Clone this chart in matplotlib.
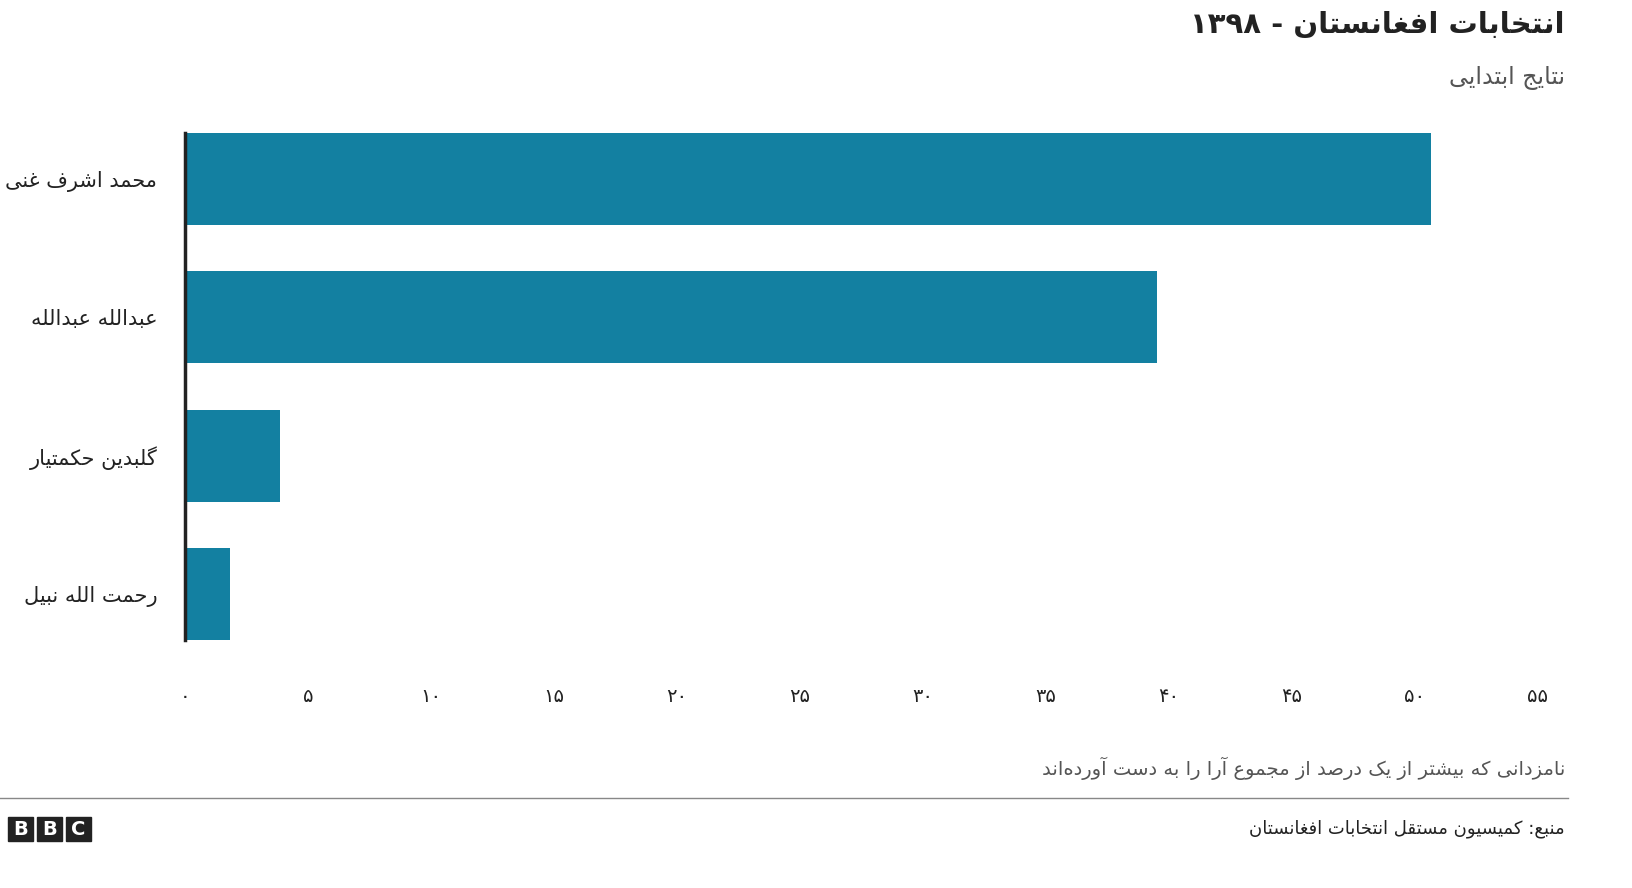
import matplotlib
matplotlib.use('Agg')
import matplotlib.pyplot as plt
from matplotlib.patches import Rectangle

plt.rcParams['font.family'] = ['DejaVu Sans', 'Noto Sans']

# --- minimal Persian shaping (no arabic_reshaper available) ---
# char: (isolated, final, initial, medial); two-form letters don't join forward
FORMS = {
    'ا': (0xFE8D, 0xFE8E), 'آ': (0xFE81, 0xFE82),
    'ب': (0xFE8F, 0xFE90, 0xFE91, 0xFE92), 'ت': (0xFE95, 0xFE96, 0xFE97, 0xFE98),
    'پ': (0xFB56, 0xFB57, 0xFB58, 0xFB59), 'ج': (0xFE9D, 0xFE9E, 0xFE9F, 0xFEA0),
    'ح': (0xFEA1, 0xFEA2, 0xFEA3, 0xFEA4), 'خ': (0xFEA5, 0xFEA6, 0xFEA7, 0xFEA8),
    'د': (0xFEA9, 0xFEAA), 'ذ': (0xFEAB, 0xFEAC), 'ر': (0xFEAD, 0xFEAE),
    'ز': (0xFEAF, 0xFEB0), 'ژ': (0xFB8A, 0xFB8B),
    'س': (0xFEB1, 0xFEB2, 0xFEB3, 0xFEB4), 'ش': (0xFEB5, 0xFEB6, 0xFEB7, 0xFEB8),
    'ص': (0xFEB9, 0xFEBA, 0xFEBB, 0xFEBC), 'ع': (0xFEC9, 0xFECA, 0xFECB, 0xFECC),
    'غ': (0xFECD, 0xFECE, 0xFECF, 0xFED0), 'ف': (0xFED1, 0xFED2, 0xFED3, 0xFED4),
    'ق': (0xFED5, 0xFED6, 0xFED7, 0xFED8), 'ک': (0xFB8E, 0xFB8F, 0xFB90, 0xFB91),
    'گ': (0xFB92, 0xFB93, 0xFB94, 0xFB95), 'ل': (0xFEDD, 0xFEDE, 0xFEDF, 0xFEE0),
    'م': (0xFEE1, 0xFEE2, 0xFEE3, 0xFEE4), 'ن': (0xFEE5, 0xFEE6, 0xFEE7, 0xFEE8),
    'و': (0xFEED, 0xFEEE), 'ه': (0xFEE9, 0xFEEA, 0xFEEB, 0xFEEC),
    'ی': (0xFBFC, 0xFBFD, 0xFBFE, 0xFBFF),
    'ﻻ': (0xFEFB, 0xFEFC), 'ﻵ': (0xFEF5, 0xFEF6),
}


def shape(text):
    text = text.replace('لا', 'ﻻ').replace('لآ', 'ﻵ')
    chars = list(text)
    out = []
    for i, c in enumerate(chars):
        if c not in FORMS:
            out.append(c)
            continue
        f = FORMS[c]
        prev = chars[i - 1] if i > 0 else ''
        nxt = chars[i + 1] if i + 1 < len(chars) else ''
        jp = prev in FORMS and len(FORMS[prev]) == 4
        jn = len(f) == 4 and nxt in FORMS
        if jp and jn:
            k = 3
        elif jn:
            k = 2
        elif jp:
            k = 1
        else:
            k = 0
        out.append(chr(f[k]))
    s = ''.join(ch for ch in out if ch != '\u200c')[::-1]
    # put digit runs back in reading order
    res, run = '', ''
    for ch in s:
        if '\u06f0' <= ch <= '\u06f9':
            run += ch
        else:
            res += run[::-1] + ch
            run = ''
    return res + run[::-1]


def fa_digits(n):
    return ''.join(chr(0x06F0 + int(d)) for d in str(n))


candidates = ['محمد اشرف غنی', 'عبدالله عبدالله', 'گلبدین حکمتیار', 'رحمت الله نبیل']
vote_share = [50.64, 39.52, 3.85, 1.82]
x_ticks = [0, 5, 10, 15, 20, 25, 30, 35, 40, 45, 50, 55]

W, H = 1632, 888
fig = plt.figure(figsize=(W / 100, H / 100), dpi=100)
ax = fig.add_axes([185 / W, 1 - 640 / H, (1538 - 185) / W, (640 - 133) / H])

ypos = list(range(len(candidates)))
ax.barh(ypos, vote_share, height=0.667, color='#1380A1')
ax.set_xlim(0, 55)
ax.set_ylim(len(candidates) - 1 + 0.3335, -0.3335)
for s in ['top', 'right', 'bottom']:
    ax.spines[s].set_visible(False)
ax.spines['left'].set_linewidth(2.5)
ax.spines['left'].set_color('#222222')
ax.set_xticks(x_ticks)
ax.set_xticklabels([fa_digits(t) for t in x_ticks], fontsize=14, color='#222222')
ax.set_yticks(ypos)
ax.set_yticklabels([shape(c) for c in candidates], fontsize=15, color='#222222')
ax.tick_params(length=0)
ax.tick_params(axis='x', pad=34)
ax.tick_params(axis='y', pad=20)

fig.text(1565 / W, 1 - 25 / H, shape('انتخابات افغانستان - ۱۳۹۸'), ha='right', va='center',
         fontsize=21, fontweight='bold', color='#222222')
fig.text(1565 / W, 1 - 78 / H, shape('نتایج ابتدایی'), ha='right', va='center',
         fontsize=17, color='#555555')
fig.text(1565 / W, 1 - 768 / H, shape('نامزدانی که بیشتر از یک درصد از مجموع آرا را به دست آورده\u200cاند'),
         ha='right', va='center', fontsize=14, color='#555555')
fig.add_artist(plt.Line2D([0, 1568 / W], [1 - 798 / H] * 2, color='#888888', lw=1))
fig.text(1565 / W, 1 - 829 / H, shape('منبع: کمیسیون مستقل انتخابات افغانستان'),
         ha='right', va='center', fontsize=13, color='#222222')

# BBC blocks
for i, letter in enumerate('BBC'):
    x0 = 8 + i * 29
    fig.add_artist(Rectangle((x0 / W, 1 - 841 / H), 25 / W, 24 / H, color='#222222',
                             transform=fig.transFigure))
    fig.text((x0 + 12.5) / W, 1 - 829 / H, letter, ha='center', va='center',
             fontsize=14, fontweight='bold', color='white')

fig.savefig('out.png', dpi=100)
